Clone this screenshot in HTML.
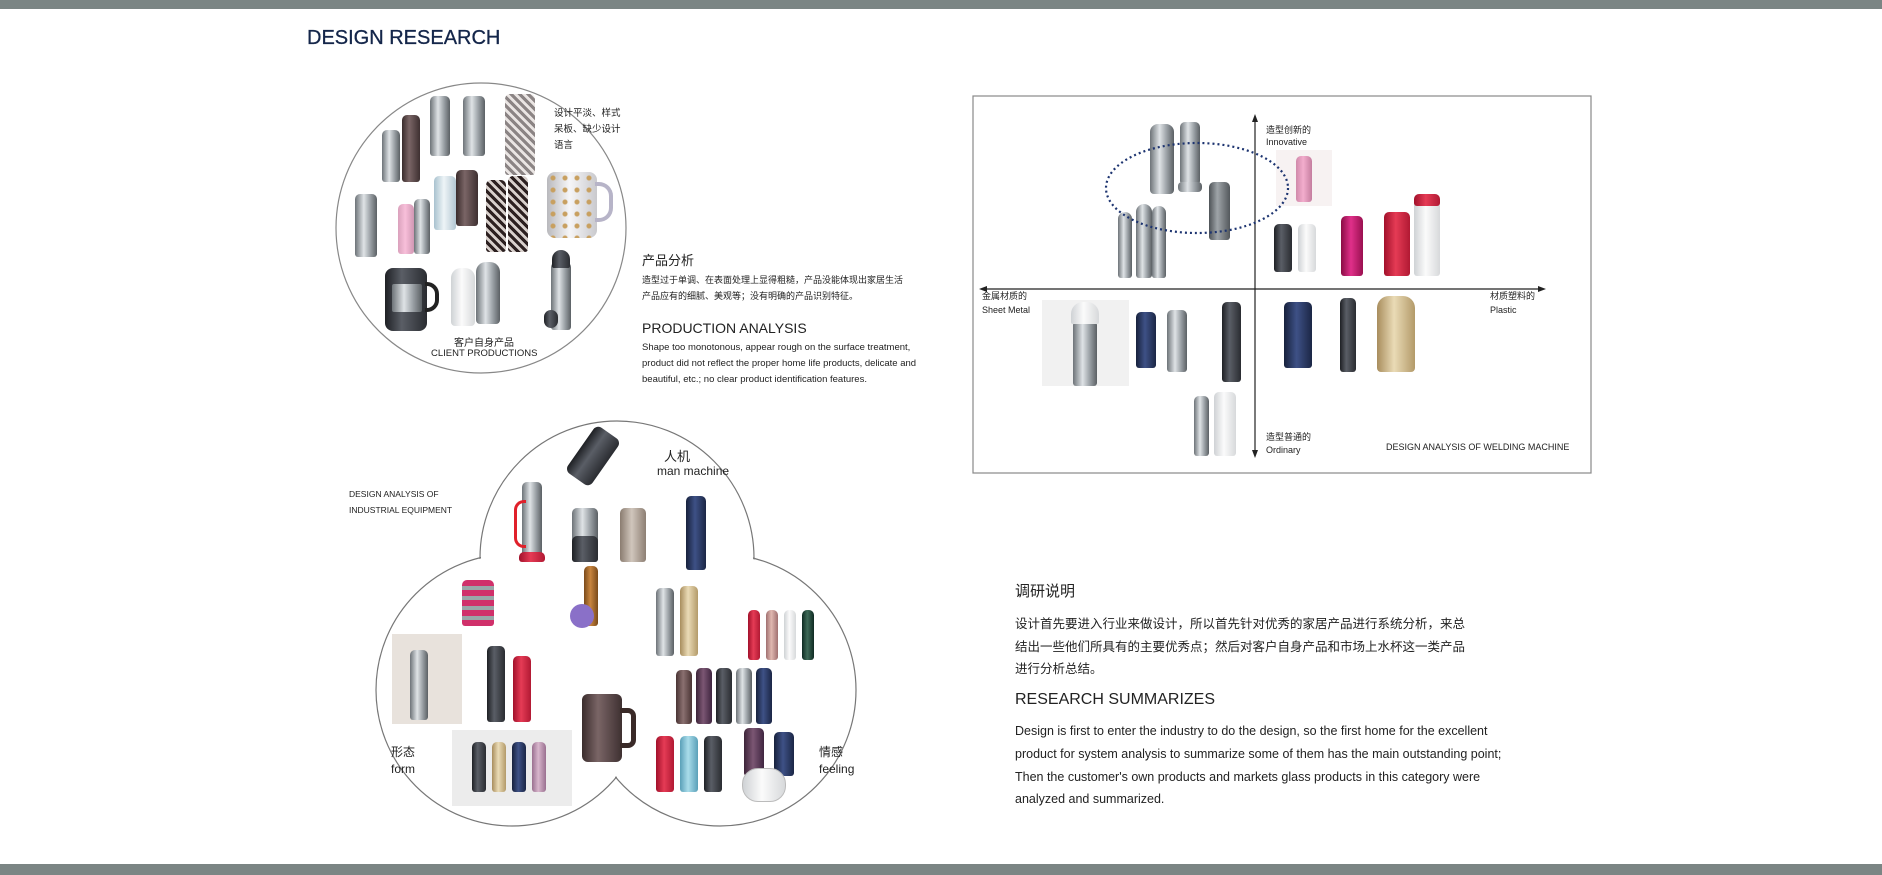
<!DOCTYPE html>
<html><head><meta charset="utf-8"><style>
*{margin:0;padding:0;box-sizing:border-box}
body{width:1882px;height:875px;background:#fff;position:relative;overflow:hidden;font-family:"Liberation Sans","Noto Sans CJK SC",sans-serif;color:#222}
.a{position:absolute;white-space:nowrap}
.b{position:absolute;border-radius:5px 5px 3px 3px}
.s{background:linear-gradient(90deg,#6d7378,#dfe3e6 40%,#9aa0a5 70%,#5b6064)}
.k{background:linear-gradient(90deg,#1e2024,#5a5e66 40%,#2a2c31)}
.br{background:linear-gradient(90deg,#3a2c2c,#7a6566 40%,#3e3031)}
.w{background:linear-gradient(90deg,#cfd2d5,#fbfbfb 45%,#d7d9db)}
.r{background:linear-gradient(90deg,#a1102a,#e53b55 45%,#b11933)}
.p{background:linear-gradient(90deg,#b5437a,#f07fb4 45%,#a33068)}
.n{background:linear-gradient(90deg,#17213c,#3e5186 45%,#1b2645)}
.g{background:linear-gradient(90deg,#a88d5d,#eadbb6 45%,#b39a69)}
.pu{background:linear-gradient(90deg,#3c2338,#7b5673 45%,#3f2540)}
.pt{background:repeating-linear-gradient(45deg,#2c2020 0 3px,#d8d0cc 3px 6px)}
.ph{position:absolute;background:#ececec}
</style></head><body>
<div class="a" style="left:0;top:0;width:1882px;height:9px;background:#7b8584"></div>
<div class="a" style="left:0;top:864px;width:1882px;height:11px;background:#7b8584"></div>
<div class="a" style="left:307px;top:27px;font-size:20px;color:#14264a;-webkit-text-stroke:0.3px #14264a">DESIGN RESEARCH</div>

<svg class="a" style="left:0;top:0" width="1882" height="875">
<circle cx="481" cy="228" r="145" fill="none" stroke="#888" stroke-width="1.2"/>
<rect x="973" y="96" width="618" height="377" fill="none" stroke="#888" stroke-width="1.2"/>
<line x1="1255" y1="120" x2="1255" y2="452" stroke="#222" stroke-width="1.2"/>
<polygon points="1255,114 1252,122 1258,122" fill="#222"/>
<polygon points="1255,458 1252,450 1258,450" fill="#222"/>
<line x1="984" y1="289" x2="1541" y2="289" stroke="#222" stroke-width="1.2"/>
<polygon points="979,289 987,286 987,292" fill="#222"/>
<polygon points="1546,289 1538,286 1538,292" fill="#222"/>
<circle cx="617" cy="558" r="137" fill="none" stroke="#777" stroke-width="1.2"/>
<circle cx="512" cy="690" r="136" fill="none" stroke="#777" stroke-width="1.2"/>
<circle cx="720" cy="690" r="136" fill="none" stroke="#777" stroke-width="1.2"/>
<circle cx="617" cy="558" r="136" fill="#fff"/>
<circle cx="512" cy="690" r="135" fill="#fff"/>
<circle cx="720" cy="690" r="135" fill="#fff"/>
</svg>

<div class="b s" style="left:382px;top:130px;width:18px;height:52px"></div>
<div class="b br" style="left:402px;top:115px;width:18px;height:67px"></div>
<div class="b s" style="left:430px;top:96px;width:20px;height:60px"></div>
<div class="b s" style="left:463px;top:96px;width:22px;height:60px"></div>
<div class="b pt" style="left:505px;top:94px;width:30px;height:81px;opacity:.55"></div>
<div class="b s" style="left:355px;top:194px;width:22px;height:63px"></div>
<div class="b p" style="left:398px;top:204px;width:16px;height:50px;opacity:.5"></div>
<div class="b s" style="left:414px;top:199px;width:16px;height:55px"></div>
<div class="b w" style="left:434px;top:176px;width:22px;height:54px;background:linear-gradient(90deg,#a9c2cf,#eef4f7 45%,#b3c7d2)"></div>
<div class="b br" style="left:456px;top:170px;width:22px;height:56px"></div>
<div class="b pt" style="left:486px;top:180px;width:20px;height:72px"></div>
<div class="b pt" style="left:508px;top:176px;width:20px;height:76px"></div>
<div class="b w" style="left:547px;top:172px;width:50px;height:66px;border-radius:8px;background:radial-gradient(#c8a060 2px,transparent 3px) 0 0/12px 12px,linear-gradient(90deg,#b9b9bd,#f6f6f8 45%,#c9c9cd)"></div>
<div class="a" style="left:595px;top:182px;width:18px;height:40px;border:4px solid #b7b4c8;border-left:none;border-radius:0 14px 14px 0"></div>
<div class="b k" style="left:385px;top:268px;width:42px;height:63px;border-radius:8px"></div>
<div class="b s" style="left:392px;top:284px;width:30px;height:28px;border-radius:2px"></div>
<div class="a" style="left:425px;top:282px;width:14px;height:30px;border:4px solid #222;border-left:none;border-radius:0 12px 12px 0"></div>
<div class="b w" style="left:451px;top:268px;width:24px;height:58px;border-radius:10px 10px 4px 4px"></div>
<div class="b s" style="left:476px;top:262px;width:24px;height:62px;border-radius:10px 10px 4px 4px"></div>
<div class="b s" style="left:551px;top:262px;width:20px;height:68px"></div>
<div class="b k" style="left:552px;top:250px;width:18px;height:18px;border-radius:9px 9px 2px 2px"></div>
<div class="b k" style="left:544px;top:310px;width:14px;height:18px;border-radius:7px"></div>

<div class="a" style="left:554px;top:106px;font-size:9.5px;line-height:16px">设计平淡、样式<br>呆板、缺少设计<br>语言</div>
<div class="a" style="left:454px;top:334px;font-size:10px">客户自身产品</div>
<div class="a" style="left:431px;top:348px;font-size:9.5px">CLIENT PRODUCTIONS</div>

<div class="a" style="left:642px;top:250px;font-size:13px">产品分析</div>
<div class="a" style="left:642px;top:272px;font-size:9px;line-height:16px">造型过于单调、在表面处理上显得粗糙，产品没能体现出家居生活<br>产品应有的细腻、美观等；没有明确的产品识别特征。</div>
<div class="a" style="left:642px;top:320px;font-size:14px">PRODUCTION ANALYSIS</div>
<div class="a" style="left:642px;top:340px;font-size:9.5px;line-height:16px">Shape too monotonous, appear rough on the surface treatment,<br>product did not reflect the proper home life products, delicate and<br>beautiful, etc.; no clear product identification features.</div>

<div class="b s" style="left:1150px;top:124px;width:24px;height:70px;border-radius:8px 8px 4px 4px"></div>
<div class="b s" style="left:1180px;top:122px;width:20px;height:62px"></div>
<div class="b s" style="left:1178px;top:182px;width:24px;height:10px;border-radius:4px"></div>
<div class="b s" style="left:1118px;top:212px;width:14px;height:66px;border-radius:7px 7px 3px 3px"></div>
<div class="b s" style="left:1136px;top:204px;width:16px;height:74px;border-radius:8px 8px 3px 3px"></div>
<div class="b s" style="left:1152px;top:206px;width:14px;height:72px;border-radius:8px 8px 3px 3px"></div>
<div class="b s" style="left:1209px;top:182px;width:21px;height:58px;background:linear-gradient(90deg,#4e5357,#9ea4a8 40%,#53585c)"></div>
<div class="ph" style="left:1276px;top:150px;width:56px;height:56px;background:#f7f2f2"></div>
<div class="b p" style="left:1296px;top:156px;width:16px;height:46px;opacity:.6"></div>
<div class="b k" style="left:1274px;top:224px;width:18px;height:48px"></div>
<div class="b w" style="left:1298px;top:224px;width:18px;height:48px"></div>
<div class="b p" style="left:1341px;top:216px;width:22px;height:60px;background:linear-gradient(90deg,#8a0c44,#e0308a 45%,#9a1050)"></div>
<div class="b r" style="left:1384px;top:212px;width:26px;height:64px"></div>
<div class="b w" style="left:1414px;top:194px;width:26px;height:82px"></div>
<div class="b r" style="left:1414px;top:194px;width:26px;height:12px"></div>
<div class="ph" style="left:1042px;top:300px;width:87px;height:86px;background:#f1f1f1"></div>
<div class="b s" style="left:1073px;top:320px;width:24px;height:66px"></div>
<div class="b w" style="left:1071px;top:302px;width:28px;height:22px;border-radius:12px 12px 2px 2px"></div>
<div class="b n" style="left:1136px;top:312px;width:20px;height:56px"></div>
<div class="b s" style="left:1167px;top:310px;width:20px;height:62px"></div>
<div class="b k" style="left:1222px;top:302px;width:19px;height:80px"></div>
<div class="b s" style="left:1194px;top:396px;width:15px;height:60px"></div>
<div class="b w" style="left:1214px;top:392px;width:22px;height:64px"></div>
<div class="b n" style="left:1284px;top:302px;width:28px;height:66px"></div>
<div class="b k" style="left:1340px;top:298px;width:16px;height:74px"></div>
<div class="b g" style="left:1377px;top:296px;width:38px;height:76px;border-radius:12px 12px 4px 4px"></div>
<svg class="a" style="left:1100px;top:138px" width="194" height="100"><ellipse cx="97" cy="50" rx="91" ry="45" fill="none" stroke="#1d3470" stroke-width="2.2" stroke-dasharray="2 3"/></svg>

<div class="a" style="left:1266px;top:124px;font-size:9px;line-height:12px">造型创新的<br>Innovative</div>
<div class="a" style="left:982px;top:289px;font-size:9px;line-height:14px">金属材质的<br>Sheet Metal</div>
<div class="a" style="left:1490px;top:289px;font-size:9px;line-height:14px">材质塑料的<br>Plastic</div>
<div class="a" style="left:1266px;top:431px;font-size:9px;line-height:13px">造型普通的<br>Ordinary</div>
<div class="a" style="left:1386px;top:442px;font-size:9px">DESIGN ANALYSIS OF WELDING MACHINE</div>

<div class="b k" style="left:578px;top:428px;width:30px;height:56px;transform:rotate(35deg);border-radius:6px"></div>
<div class="b s" style="left:522px;top:482px;width:20px;height:80px"></div>
<div class="b r" style="left:519px;top:552px;width:26px;height:10px"></div>
<div class="a" style="left:514px;top:500px;width:12px;height:48px;border:3px solid #e0202a;border-right:none;border-radius:10px 0 0 10px"></div>
<div class="b s" style="left:572px;top:508px;width:26px;height:54px"></div>
<div class="b k" style="left:572px;top:536px;width:26px;height:26px"></div>
<div class="b br" style="left:620px;top:508px;width:26px;height:54px;background:linear-gradient(90deg,#8a7c70,#d0c6bc 45%,#8d7f73)"></div>
<div class="b n" style="left:686px;top:496px;width:20px;height:74px"></div>
<div class="b p" style="left:462px;top:580px;width:32px;height:46px;background:repeating-linear-gradient(180deg,#d0306a 0 6px,#9aa6a8 6px 10px)"></div>
<div class="b g" style="left:584px;top:566px;width:14px;height:60px;background:linear-gradient(90deg,#7a4a1a,#c8853f 45%,#7a4a1a)"></div>
<div class="b pu" style="left:570px;top:604px;width:24px;height:24px;border-radius:12px;background:#8a70c8"></div>
<div class="b s" style="left:656px;top:588px;width:18px;height:68px"></div>
<div class="b g" style="left:680px;top:586px;width:18px;height:70px"></div>
<div class="b r" style="left:748px;top:610px;width:12px;height:50px"></div>
<div class="b p" style="left:766px;top:610px;width:12px;height:50px;background:linear-gradient(90deg,#a07070,#e0b8b0 45%,#a07070)"></div>
<div class="b w" style="left:784px;top:610px;width:12px;height:50px"></div>
<div class="b k" style="left:802px;top:610px;width:12px;height:50px;background:linear-gradient(90deg,#0e2a22,#3e6a58 45%,#0e2a22)"></div>
<div class="ph" style="left:392px;top:634px;width:70px;height:90px;background:#e8e2dc"></div>
<div class="b s" style="left:410px;top:650px;width:18px;height:70px"></div>
<div class="b k" style="left:487px;top:646px;width:18px;height:76px"></div>
<div class="b r" style="left:513px;top:656px;width:18px;height:66px"></div>
<div class="b br" style="left:582px;top:694px;width:40px;height:68px;border-radius:6px"></div>
<div class="a" style="left:620px;top:708px;width:16px;height:40px;border:5px solid #3a2a28;border-left:none;border-radius:0 8px 8px 0"></div>
<div class="b br" style="left:676px;top:670px;width:16px;height:54px;background:linear-gradient(90deg,#4a3434,#8a7070 45%,#4a3434)"></div>
<div class="b pu" style="left:696px;top:668px;width:16px;height:56px"></div>
<div class="b k" style="left:716px;top:668px;width:16px;height:56px"></div>
<div class="b s" style="left:736px;top:668px;width:16px;height:56px"></div>
<div class="b n" style="left:756px;top:668px;width:16px;height:56px"></div>
<div class="ph" style="left:452px;top:730px;width:120px;height:76px"></div>
<div class="b k" style="left:472px;top:742px;width:14px;height:50px"></div>
<div class="b g" style="left:492px;top:742px;width:14px;height:50px"></div>
<div class="b n" style="left:512px;top:742px;width:14px;height:50px"></div>
<div class="b p" style="left:532px;top:742px;width:14px;height:50px;background:linear-gradient(90deg,#9a7090,#d8b6cc 45%,#9a7090)"></div>
<div class="b r" style="left:656px;top:736px;width:18px;height:56px"></div>
<div class="b w" style="left:680px;top:736px;width:18px;height:56px;background:linear-gradient(90deg,#5aa0b8,#a9dcea 45%,#5aa0b8)"></div>
<div class="b k" style="left:704px;top:736px;width:18px;height:56px"></div>
<div class="b pu" style="left:744px;top:728px;width:20px;height:48px"></div>
<div class="b n" style="left:774px;top:732px;width:20px;height:44px"></div>
<div class="b w" style="left:742px;top:768px;width:44px;height:34px;border-radius:16px;border:1px solid #bbb"></div>

<div class="a" style="left:349px;top:486px;font-size:8.5px;line-height:16px">DESIGN ANALYSIS OF<br>INDUSTRIAL EQUIPMENT</div>
<div class="a" style="left:664px;top:446px;font-size:13px">人机</div>
<div class="a" style="left:657px;top:464px;font-size:12px">man machine</div>
<div class="a" style="left:391px;top:744px;font-size:12px;line-height:17px">形态<br>form</div>
<div class="a" style="left:819px;top:744px;font-size:12px;line-height:17px">情感<br>feeling</div>

<div class="a" style="left:1015px;top:580px;font-size:15px">调研说明</div>
<div class="a" style="left:1015px;top:613px;font-size:12.5px;line-height:22.5px">设计首先要进入行业来做设计，所以首先针对优秀的家居产品进行系统分析，来总<br>结出一些他们所具有的主要优秀点；然后对客户自身产品和市场上水杯这一类产品<br>进行分析总结。</div>
<div class="a" style="left:1015px;top:691px;font-size:16px">RESEARCH SUMMARIZES</div>
<div class="a" style="left:1015px;top:720px;font-size:12.5px;line-height:22.8px">Design is first to enter the industry to do the design, so the first home for the excellent<br>product for system analysis to summarize some of them has the main outstanding point;<br>Then the customer's own products and markets glass products in this category were<br>analyzed and summarized.</div>
</body></html>
